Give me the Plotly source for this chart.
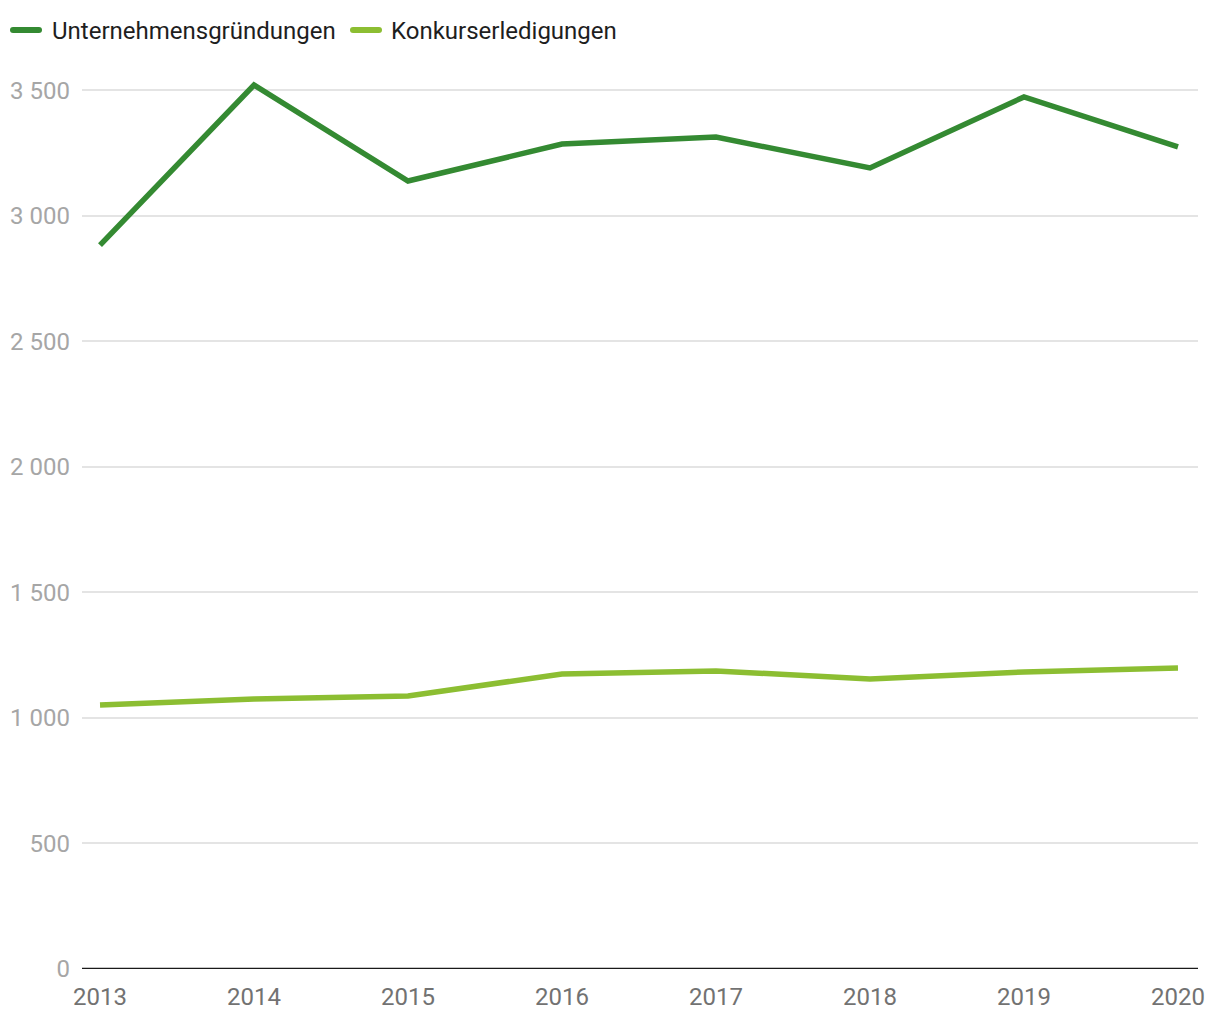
import plotly.graph_objects as go

years = [2013, 2014, 2015, 2016, 2017, 2018, 2019, 2020]
gruendungen = [2883, 3520, 3138, 3285, 3313, 3190, 3473, 3274]
konkurse = [1051, 1075, 1087, 1175, 1187, 1155, 1183, 1199]
y_ticks = [0, 500, 1000, 1500, 2000, 2500, 3000, 3500]
y_labels = ["0", "500", "1 000", "1 500", "2 000", "2 500", "3 000", "3 500"]
series_names = ["Unternehmensgründungen", "Konkurserledigungen"]
colors = ["#348a32", "#8cbe32"]

# page body has an 8px margin: compensate so the plot lands where the reference has it
OFF = 8
W, H = 1204, 1004
L, T = 82 - OFF, 65 - OFF
R = OFF + W - 1198
B = OFF + H - 969
pw, ph = W - L - R, H - T - B

def px_x(p):
    return (p - OFF - L) / pw

def px_y(p):
    return (H - B - (p - OFF)) / ph

fig = go.Figure()
fig.add_trace(go.Scatter(x=years, y=gruendungen, mode="lines", name=series_names[0],
                         line=dict(color=colors[0], width=5.5), showlegend=False))
fig.add_trace(go.Scatter(x=years, y=konkurse, mode="lines", name=series_names[1],
                         line=dict(color=colors[1], width=5.5), showlegend=False))

fig.update_layout(
    width=W, height=H,
    margin=dict(l=L, r=R, t=T, b=B, autoexpand=False),
    paper_bgcolor="white", plot_bgcolor="white",
    font=dict(family="Roboto", size=24, color="#222"),
    showlegend=False,
    xaxis=dict(range=[2012.883, 2020.13], tickmode="array", tickvals=years,
               ticktext=[str(y) for y in years], showgrid=False, zeroline=False,
               showline=False, ticks="", automargin=False, ticklabelstandoff=11,
               tickfont=dict(size=24, color="#727272")),
    yaxis=dict(range=[0, 3600], tickmode="array", tickvals=y_ticks, ticktext=y_labels,
               showgrid=True, gridcolor="#e4e4e4", gridwidth=2, zeroline=False,
               showline=False, ticks="", ticklabelstandoff=11, automargin=False,
               tickfont=dict(size=24, color="#a6a6a6")),
)
fig.add_shape(type="line", xref="paper", yref="y", x0=0, x1=1, y0=0, y1=0,
              line=dict(color="#1a1a1a", width=2.5))

# legend (manual, positioned like the reference)
leg = [(10, 42, 50), (350, 382, 389)]
for (s0, s1, tx), name, col in zip(leg, series_names, colors):
    fig.add_shape(type="line", xref="paper", yref="paper",
                  x0=px_x(s0 + 3), x1=px_x(s1 - 3), y0=px_y(30), y1=px_y(30),
                  line=dict(color=col, width=6))
    fig.add_shape(type="circle", xref="paper", yref="paper",
                  x0=px_x(s0), x1=px_x(s0 + 6), y0=px_y(27), y1=px_y(33),
                  line=dict(width=0), fillcolor=col)
    fig.add_shape(type="circle", xref="paper", yref="paper",
                  x0=px_x(s1 - 6), x1=px_x(s1), y0=px_y(27), y1=px_y(33),
                  line=dict(width=0), fillcolor=col)
    fig.add_annotation(text=name, xref="paper", yref="paper", x=px_x(tx), y=px_y(31),
                       xanchor="left", yanchor="middle", showarrow=False,
                       font=dict(size=24, color="#1e1e1e"))

fig.write_html("out.html")
